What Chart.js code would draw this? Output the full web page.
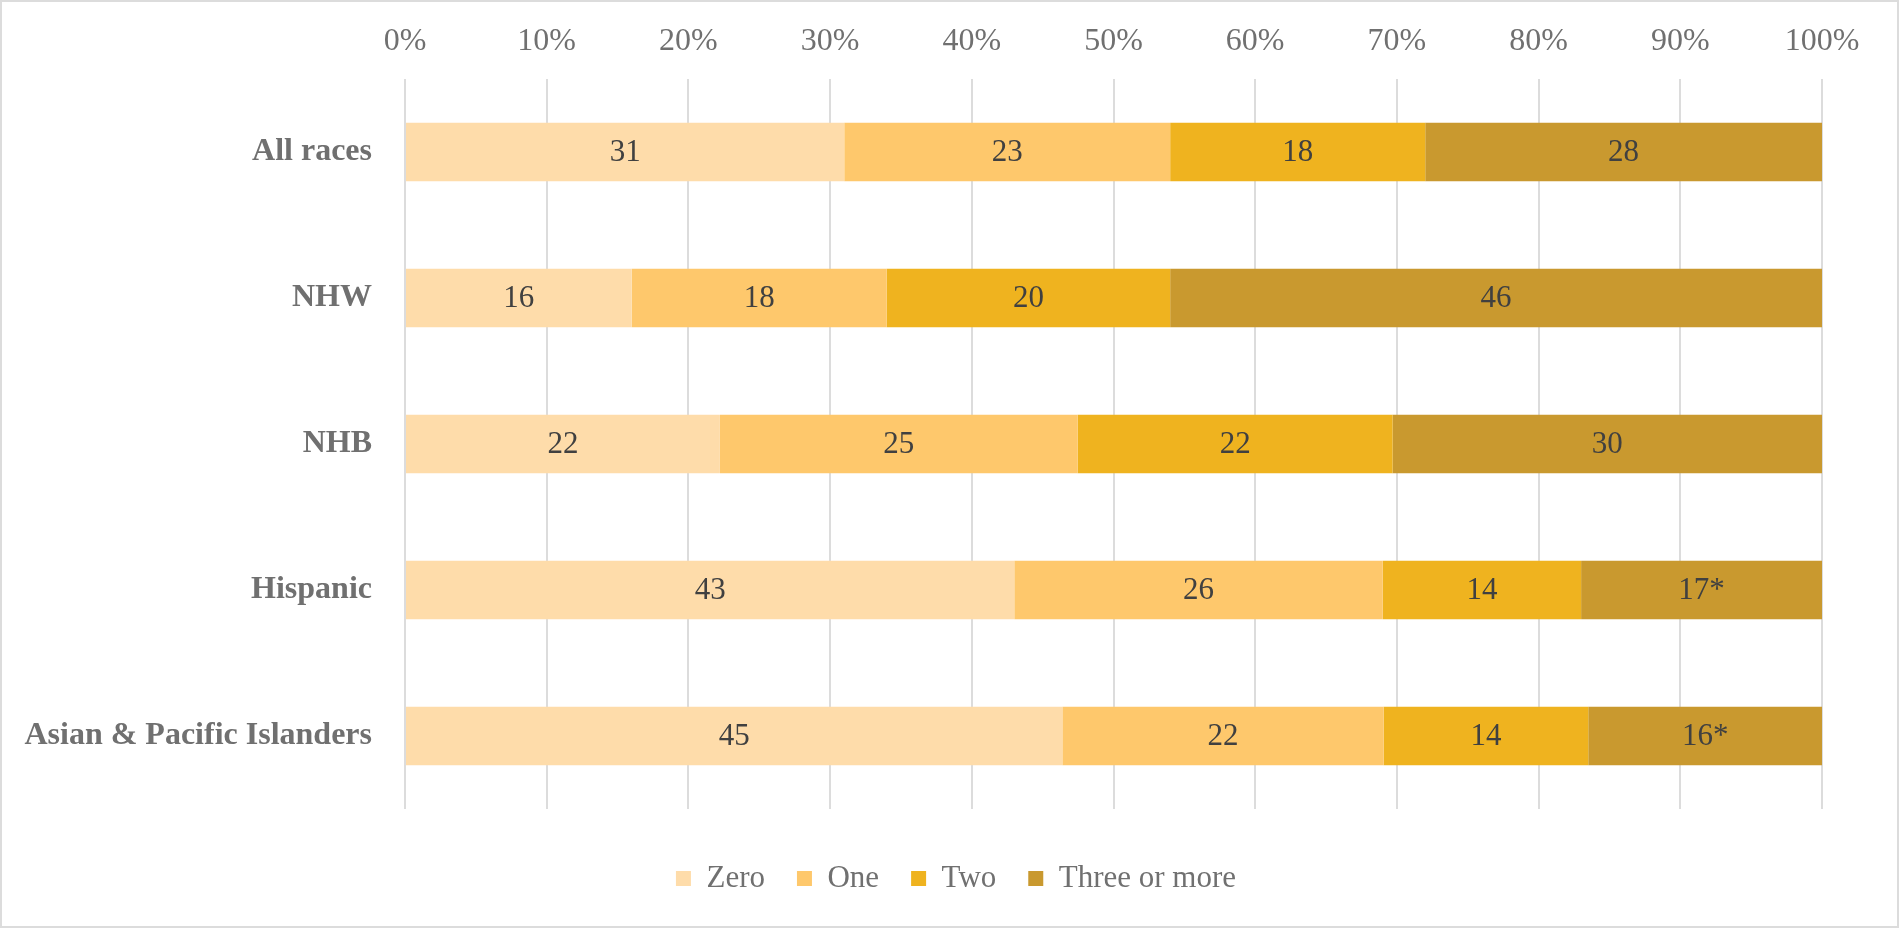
<!DOCTYPE html>
<html>
<head>
<meta charset="utf-8">
<title>Number of ... by race</title>
<script src="https://cdn.jsdelivr.net/npm/chart.js@4"></script>
<style>
    html, body { margin: 0; padding: 0; background: #fff; }
    #wrap { position: relative; width: 1901px; height: 929px; }
    #frame {
        position: absolute; left: 0; top: 0; width: 1899px; height: 928px;
        box-sizing: border-box; border: 2px solid #dcdcdc; pointer-events: none;
    }
    #chart { position: absolute; left: 0; top: 0; }
</style>
</head>
<body>
<div id="wrap">
    <canvas id="chart" width="1901" height="929"></canvas>
    <div id="frame"></div>
</div>
<script>
/* Data */
const categories = ['All races', 'NHW', 'NHB', 'Hispanic', 'Asian & Pacific Islanders']
const seriesNames = ['Zero', 'One', 'Two', 'Three or more']
const zeroVals = [31, 16, 22, 43, 45]
const oneVals = [23, 18, 25, 26, 22]
const twoVals = [18, 20, 22, 14, 14]
const threeVals = [28, 46, 30, 17, 16]
const threeNote = ['', '', '', '*', '*']
const xTicks = [0, 10, 20, 30, 40, 50, 60, 70, 80, 90, 100]

const colors = ['#FEDCAA', '#FEC86C', '#EFB31F', '#C9992F']
const gray = '#707070'
const font = "'Liberation Serif', 'Times New Roman', serif"

/* 100% stacked: share of each row total */
const allSeries = [zeroVals, oneVals, twoVals, threeVals]
const rowTotals = categories.map((c, i) => allSeries.reduce((s, arr) => s + arr[i], 0))
const toShare = (arr) => arr.map((v, i) => v / rowTotals[i] * 100)

const datasets = allSeries.map((arr, k) => ({
    label: seriesNames[k],
    data: toShare(arr),
    raw: arr.map((v, i) => k == 3 ? v + threeNote[i] : String(v)),
    backgroundColor: colors[k],
    borderWidth: 0,
    barPercentage: 0.4,
    categoryPercentage: 1,
}))

/* value labels inside the bars */
const barLabels = {
    id: 'barLabels',
    afterDatasetsDraw(chart) {
        const ctx = chart.ctx
        ctx.save()
        ctx.font = '31px ' + font
        ctx.fillStyle = '#404040'
        ctx.textAlign = 'center'
        ctx.textBaseline = 'middle'
        chart.data.datasets.forEach((ds, d) => {
            chart.getDatasetMeta(d).data.forEach((bar, i) => {
                const p = bar.getCenterPoint()
                ctx.fillText(ds.raw[i], p.x, p.y + 1)
            })
        })
        ctx.restore()
    }
}

/* nudge legend down and right, like the original */
const legendShift = {
    id: 'legendShift',
    afterLayout(chart) {
        const lg = chart.legend
        lg.top += 22
        lg.bottom += 22
        lg.left += 45
        lg.right += 45
    }
}

const myChart = document.getElementById('chart').getContext('2d')
new Chart(myChart, {
    type: 'bar',
    data: { labels: categories, datasets: datasets },
    plugins: [barLabels, legendShift],
    options: {
        indexAxis: 'y',
        responsive: false,
        animation: false,
        devicePixelRatio: 1,
        layout: { padding: { left: 0, right: 79, top: 0, bottom: 47 } },
        plugins: {
            tooltip: { enabled: false },
            legend: {
                position: 'bottom',
                labels: {
                    boxWidth: 15,
                    boxHeight: 15,
                    padding: 32,
                    color: gray,
                    font: { family: font, size: 31 },
                }
            }
        },
        scales: {
            x: {
                position: 'top',
                stacked: true,
                min: 0,
                max: 100,
                afterBuildTicks: (s) => { s.ticks = xTicks.map(v => ({ value: v })) },
                afterFit: (s) => { s.height = 79 },
                grid: { color: '#dcdcdc', lineWidth: 2, drawTicks: false },
                border: { display: false },
                ticks: {
                    padding: 18,
                    color: gray,
                    font: { family: font, size: 32 },
                    callback: (v) => v + '%',
                }
            },
            y: {
                stacked: true,
                afterFit: (s) => { s.width = 405 },
                grid: { display: false, drawTicks: false },
                border: { display: false },
                ticks: {
                    padding: 33,
                    color: gray,
                    font: { family: font, size: 32, weight: 'bold' },
                }
            }
        }
    }
})
</script>
</body>
</html>
